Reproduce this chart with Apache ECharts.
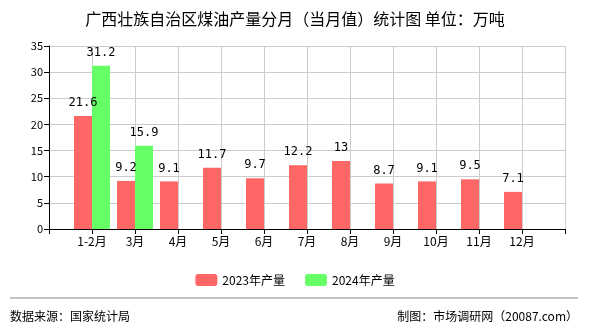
<!DOCTYPE html>
<html><head><meta charset="utf-8">
<script src="https://cdn.jsdelivr.net/npm/echarts@6/dist/echarts.min.js"></script>
<style>html,body{margin:0;padding:0;background:#fff}#c{width:590px;height:330px}</style>
</head><body><div id="c"></div>
<script>
const categories = ['', '1-2月', '3月', '4月', '5月', '6月', '7月', '8月', '9月', '10月', '11月', '12月', ''];
const values2023 = [null, 21.6, 9.2, 9.1, 11.7, 9.7, 12.2, 13, 8.7, 9.1, 9.5, 7.1, null];
const values2024 = [null, 31.2, 15.9, null, null, null, null, null, null, null, null, null, null];
const yTicks = [0, 5, 10, 15, 20, 25, 30, 35];

const FONT = '"Noto Sans CJK SC", sans-serif';
const chart = echarts.init(document.getElementById('c'));
chart.setOption({
  animation: false,
  backgroundColor: '#fff',
  title: {
    text: '广西壮族自治区煤油产量分月（当月值）统计图 单位：万吨',
    left: 'center', top: 6,
    textStyle: {fontSize: 16, fontWeight: 'normal', color: '#000', fontFamily: FONT}
  },
  legend: {
    left: 'center', top: 269, itemWidth: 22, itemHeight: 12, itemGap: 20,
    textStyle: {fontSize: 12, color: '#000', fontFamily: FONT},
    data: ['2023年产量', '2024年产量']
  },
  grid: {left: 49, right: 25, top: 46, bottom: 101},
  xAxis: {
    type: 'category', data: categories, boundaryGap: false,
    axisLine: {lineStyle: {color: '#000'}},
    axisTick: {show: true, lineStyle: {color: '#000'}},
    axisLabel: {color: '#000', fontSize: 12, fontFamily: FONT, interval: 0, margin: 6},
    splitLine: {show: true, lineStyle: {color: '#ccc'}}
  },
  yAxis: {
    type: 'value', min: yTicks[0], max: yTicks[yTicks.length - 1], interval: 5,
    axisLine: {show: true, lineStyle: {color: '#000'}},
    axisTick: {show: true, lineStyle: {color: '#000'}},
    axisLabel: {color: '#000', fontSize: 11, fontFamily: FONT, margin: 6},
    splitLine: {show: true, lineStyle: {color: '#ccc'}}
  },
  series: [
    {name: '2023年产量', type: 'bar', data: values2023, barWidth: 18, barGap: '0%',
     itemStyle: {color: '#ff6666'},
     label: {show: true, position: 'top', distance: 7, color: '#000', fontSize: 12, fontFamily: '"DejaVu Sans Mono", monospace'}},
    {name: '2024年产量', type: 'bar', data: values2024, barWidth: 18, barGap: '0%',
     itemStyle: {color: '#66ff66'},
     label: {show: true, position: 'top', distance: 7, color: '#000', fontSize: 12, fontFamily: '"DejaVu Sans Mono", monospace'}}
  ],
  graphic: [
    {type: 'line', shape: {x1: 10, y1: 298, x2: 578, y2: 298}, style: {stroke: '#888', lineWidth: 1}},
    {type: 'text', left: 10, top: 310, style: {text: '数据来源：国家统计局', fill: '#000', font: '12px "Noto Sans CJK SC", sans-serif'}},
    {type: 'text', right: 12, top: 310, style: {text: '制图：市场调研网（20087.com）', fill: '#000', font: '12px "Noto Sans CJK SC", sans-serif'}}
  ]
});
</script></body></html>
